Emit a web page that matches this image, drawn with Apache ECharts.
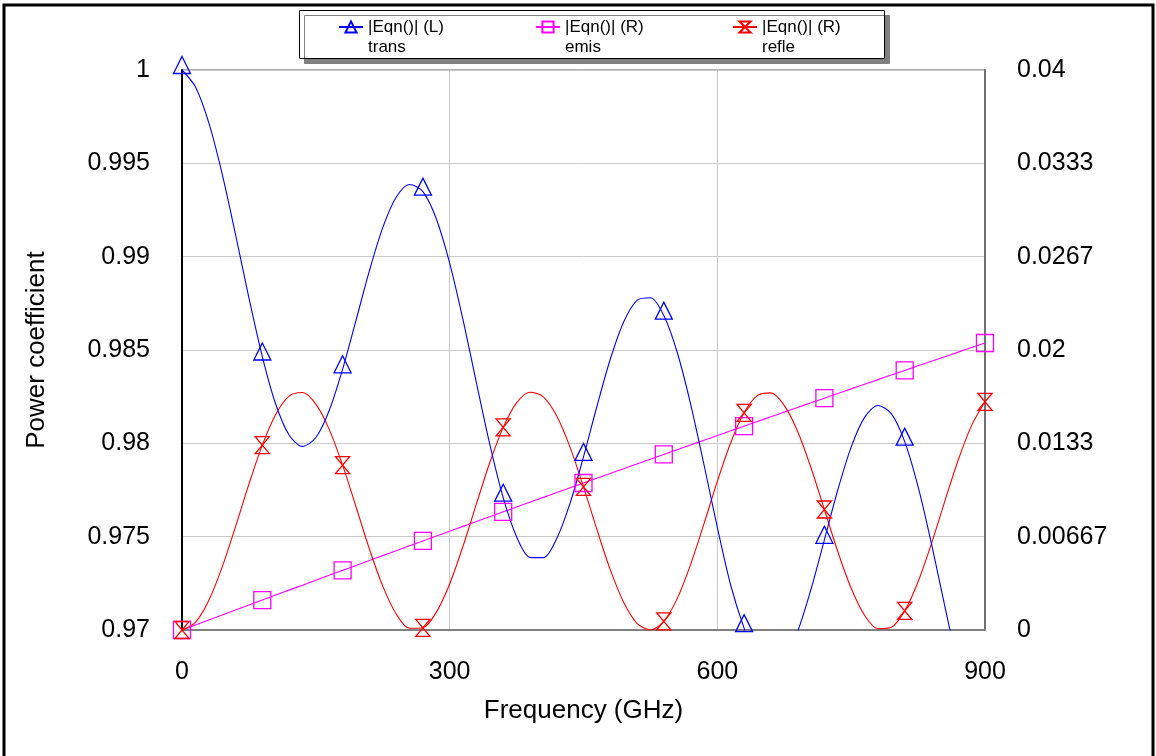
<!DOCTYPE html>
<html>
<head>
<meta charset="utf-8">
<script src="https://cdn.jsdelivr.net/npm/echarts@6/dist/echarts.min.js"></script>
<style>
  html, body { margin: 0; padding: 0; background: #fff; }
  #chart { width: 1156px; height: 756px; }
</style>
</head>
<body>
<div id="chart"></div>
<script>
// frequency grid (GHz)
const freq = [0, 15, 30, 45, 60, 75, 90, 105, 120, 135, 150, 165, 180, 195, 210, 225, 240, 255, 270, 285,
  300, 315, 330, 345, 360, 375, 390, 405, 420, 435, 450, 465, 480, 495, 510, 525, 540, 555, 570, 585,
  600, 615, 630, 645, 660, 675, 690, 705, 720, 735, 750, 765, 780, 795, 810, 825, 840, 855, 870, 885, 900];

// |Eqn()| (L) trans  -- left axis
const trans = [1, 0.999098, 0.997178, 0.994439, 0.991188, 0.987797, 0.984651, 0.982105, 0.980445, 0.979836,
  0.980311, 0.981761, 0.983966, 0.986582, 0.989238, 0.991554, 0.993181, 0.993868, 0.993484, 0.992031,
  0.989654, 0.986609, 0.983244, 0.979942, 0.977087, 0.974995, 0.973893, 0.973875, 0.974903, 0.976796,
  0.979276, 0.981974, 0.984506, 0.9865, 0.987661, 0.987796, 0.986842, 0.984881, 0.982118, 0.978866,
  0.975496, 0.972397, 0.9701, 0.96835, 0.967832, 0.968392, 0.96992, 0.972182, 0.974833, 0.977499,
  0.979797, 0.981389, 0.982028, 0.981592, 0.980093, 0.977682, 0.974622, 0.971268, 0.968006, 0.965209, 0.963198];

// |Eqn()| (R) emis  -- right axis
const emis = [0, 0.000358, 0.000716, 0.001073, 0.001429, 0.001785, 0.00214, 0.002495, 0.002849, 0.003203,
  0.003556, 0.003908, 0.00426, 0.004612, 0.004963, 0.005313, 0.005663, 0.006012, 0.00636, 0.006709,
  0.007056, 0.007403, 0.007749, 0.008095, 0.00844, 0.008785, 0.009129, 0.009473, 0.009816, 0.010158,
  0.0105, 0.010842, 0.011183, 0.011523, 0.011863, 0.012202, 0.012541, 0.012879, 0.013216, 0.013553,
  0.013889, 0.014225, 0.014561, 0.014895, 0.015229, 0.015563, 0.015896, 0.016228, 0.016561, 0.016892,
  0.017223, 0.017553, 0.017883, 0.018212, 0.018541, 0.018868, 0.019197, 0.019523, 0.019849, 0.020176, 0.020501];

// |Eqn()| (R) refle  -- right axis
const refle = [0, 0.000544, 0.002106, 0.004488, 0.007383, 0.010418, 0.013209, 0.0154, 0.016706, 0.016961,
  0.016133, 0.014331, 0.011774, 0.008806, 0.005799, 0.003133, 0.001156, 0.00012, 0.000156, 0.00126,
  0.00329, 0.005988, 0.009007, 0.011963, 0.014473, 0.01622, 0.016978, 0.016652, 0.015281, 0.013046,
  0.010224, 0.007184, 0.004311, 0.001977, 0.000476, 0.000002, 0.000617, 0.00224, 0.004666, 0.007581,
  0.010615, 0.013378, 0.015514, 0.016755, 0.016939, 0.016045, 0.014184, 0.01159, 0.008606, 0.005609,
  0.00298, 0.001058, 0.000089, 0.000196, 0.001366, 0.00345, 0.006181, 0.009209, 0.012145, 0.014615, 0.016301];

const rightTickLabels = ["0", "0.00667", "0.0133", "0.02", "0.0267", "0.0333", "0.04"];
const markerEvery = 6; // a marker every 90 GHz

const FONT = "'Liberation Sans', Arial, sans-serif";
const hourglass = "path://M0,0L10,0L0,12L10,12Z";

function pairs(arr) {
  return freq.map((f, i) => [f, arr[i]]);
}
function markerSize(size) {
  return (val, params) => (params.dataIndex % markerEvery === 0 ? size : 0);
}
function makeSeries(name, data, yIndex, color, symbol, size, offset) {
  return {
    name: name,
    type: "line",
    yAxisIndex: yIndex,
    data: pairs(data),
    smooth: 0.3,
    clip: true,
    showAllSymbol: true,
    symbol: symbol,
    symbolKeepAspect: true,
    symbolSize: markerSize(size),
    symbolOffset: offset || [0, 0],
    lineStyle: { color: color, width: 1.1 },
    itemStyle: { color: "rgba(0,0,0,0)", borderColor: color, borderWidth: 1.3 },
    emphasis: { disabled: true },
  };
}

const legendBase = {
  top: -3,
  padding: 0,
  itemWidth: 24,
  itemHeight: 14,
  itemGap: 0,
  selectedMode: false,
  textStyle: { fontFamily: FONT, fontSize: 17, color: "#000", lineHeight: 20 },
};

const myChart = echarts.init(document.getElementById("chart"));
const option = {
  animation: false,
  backgroundColor: "#fff",
  graphic: [
    {
      type: "rect",
      shape: { x: 4, y: 5, width: 1149, height: 800 },
      style: { fill: "none", stroke: "#000", lineWidth: 3 },
      silent: true,
    },
    {
      type: "rect",
      shape: { x: 299.5, y: 10.5, width: 585, height: 48 },
      style: {
        fill: "#fff",
        stroke: "#000",
        lineWidth: 1,
        shadowColor: "#808080",
        shadowOffsetX: 5,
        shadowOffsetY: 5,
        shadowBlur: 0,
      },
      silent: true,
    },
  ],
  legend: [
    Object.assign({}, legendBase, {
      left: 338,
      data: ["trans"],
      formatter: () => "\n|Eqn()| (L)\ntrans",
    }),
    Object.assign({}, legendBase, {
      left: 535,
      data: ["emis"],
      formatter: () => "\n|Eqn()| (R)\nemis",
    }),
    Object.assign({}, legendBase, {
      left: 732,
      data: ["refle"],
      formatter: () => "\n|Eqn()| (R)\nrefle",
    }),
  ],
  grid: {
    left: 182,
    right: 171,
    top: 70,
    bottom: 126,
    show: true,
    borderColor: "#606060",
    borderWidth: 1,
  },
  xAxis: {
    type: "value",
    min: 0,
    max: 900,
    interval: 300,
    name: "Frequency (GHz)",
    nameLocation: "middle",
    nameGap: 68,
    nameTextStyle: { fontFamily: FONT, fontSize: 26, color: "#000" },
    axisLine: { show: true, lineStyle: { color: "#808080", width: 2 } },
    axisTick: { show: false },
    axisLabel: { fontFamily: FONT, fontSize: 25, color: "#000", margin: 30 },
    splitLine: { show: true, lineStyle: { color: "#c8c8c8", width: 1 } },
  },
  yAxis: [
    {
      type: "value",
      position: "left",
      min: 0.97,
      max: 1,
      interval: 0.005,
      name: "Power coefficient",
      nameLocation: "middle",
      nameGap: 132,
      nameTextStyle: { fontFamily: FONT, fontSize: 26, color: "#000" },
      axisLine: { show: true, lineStyle: { color: "#000", width: 2 } },
      axisTick: { show: false },
      axisLabel: {
        fontFamily: FONT,
        fontSize: 25,
        color: "#000",
        margin: 32,
        formatter: (v) => String(parseFloat(v.toFixed(4))),
      },
      splitLine: { show: true, lineStyle: { color: "#c8c8c8", width: 1 } },
    },
    {
      type: "value",
      position: "right",
      min: 0,
      max: 0.04,
      interval: 0.04 / 6,
      axisLine: { show: true, lineStyle: { color: "#707070", width: 2 } },
      axisTick: { show: false },
      axisLabel: {
        fontFamily: FONT,
        fontSize: 25,
        color: "#000",
        margin: 32,
        formatter: (v) => rightTickLabels[Math.round(v / (0.04 / 6))] || "",
      },
      splitLine: { show: false },
    },
  ],
  series: [
    makeSeries("emis", emis, 1, "#ff00ff", "rect", 17),
    makeSeries("refle", refle, 1, "#ff0000", hourglass, 17),
    makeSeries("trans", trans, 0, "#0000ff", "triangle", 17, [0, -5]),
  ],
};
myChart.setOption(option);
</script>
</body>
</html>
